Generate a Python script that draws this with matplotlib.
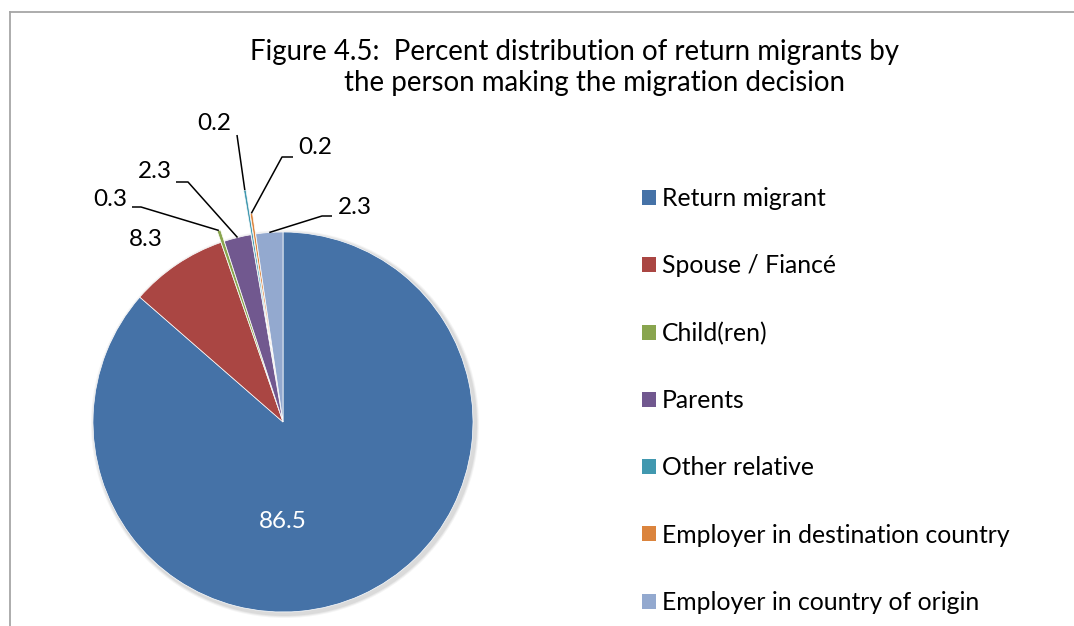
import matplotlib
matplotlib.use("Agg")
import matplotlib.pyplot as plt
from matplotlib.patches import Patch, Circle
import numpy as np

# ---------------- data ----------------
categories = ["Return migrant", "Spouse / Fiancé", "Child(ren)", "Parents",
              "Other relative", "Employer in destination country",
              "Employer in country of origin"]
values = [86.5, 8.3, 0.3, 2.3, 0.2, 0.2, 2.3]
value_labels = ["86.5", "8.3", "0.3", "2.3", "0.2", "0.2", "2.3"]
colors = ["#4572A7", "#AA4643", "#89A54E", "#71588F", "#4198AF", "#DB843D", "#93A9CF"]
title_lines = ["Figure 4.5:  Percent distribution of return migrants by",
               "the person making the migration decision"]

# ---------------- layout (pixels) ----------------
W, H = 1074, 626
FONT = ["Lato", "DejaVu Sans"]
cx, cy, R = 283, 422, 190
explode_px = [0, 0, 12, 0, 45, 21, 0]
label_pos = [(283, 522), (146, 239), (110, 200), (155, 172), (214, 124), (315, 148), (355, 207)]
leader_pts = [None, None,
              [(132, 207), (141, 207)],
              [(176, 182), (188, 182)],
              [(237, 135)],
              [(293, 157), (282, 157)],
              [(332, 216), (322, 216)]]
label_colors = ["white"] + ["black"] * 6

fig = plt.figure(figsize=(W / 100, H / 100), dpi=100)
ax = fig.add_axes([0, 0, 1, 1])
renderer = fig.canvas.get_renderer()


def Y(py):
    return H - py


def fit_size(s, target_w, base=20):
    t = fig.text(0, 0, s, fontsize=base, family=FONT)
    w = t.get_window_extent(renderer).width
    t.remove()
    return base * target_w / w


# soft shadow
for k, a in [(4, 0.04), (3, 0.05), (2, 0.06)]:
    ax.add_patch(Circle((cx + 2, Y(cy) - 2), R + k, color="black", alpha=a, lw=0, zorder=0))

ax.set_autoscale_on(False)
wedges, _ = ax.pie(values, colors=colors, startangle=90, counterclock=False,
                   center=(cx, Y(cy)), radius=R, explode=explode_px,
                   wedgeprops=dict(edgecolor="white", linewidth=0.5), frame=True)
ax.set_xlim(0, W)
ax.set_ylim(0, H)
ax.set_aspect("auto")
ax.axis("off")

# data labels
lbl_size = fit_size("86.5", 48)
for i, (lab, (px, py)) in enumerate(zip(value_labels, label_pos)):
    ax.text(px, Y(py), lab, ha="center", va="center", fontsize=lbl_size,
            family=FONT, color=label_colors[i], zorder=5)
    if leader_pts[i] is not None:
        w = wedges[i]
        th = np.deg2rad((w.theta1 + w.theta2) / 2)
        ax_x = w.center[0] + R * np.cos(th)
        ax_y = w.center[1] + R * np.sin(th)
        xs = [p[0] for p in leader_pts[i]] + [ax_x]
        ys = [Y(p[1]) for p in leader_pts[i]] + [ax_y]
        ax.plot(xs, ys, color="black", lw=1.1, zorder=4, solid_capstyle="butt")

# title
t_size = fit_size(title_lines[0], 649)
ax.text(574.5, Y(60), title_lines[0], ha="center", va="baseline", fontsize=t_size, family=FONT)
ax.text(595, Y(91), title_lines[1], ha="center", va="baseline", fontsize=t_size, family=FONT)

# chart border (top and left)
ax.plot([10, 10], [Y(11.5), Y(H + 5)], color="#a6a6a6", lw=1.3, clip_on=False)
ax.plot([10, W + 5], [Y(11.5), Y(11.5)], color="#a6a6a6", lw=1.3, clip_on=False)

# legend
leg_size = fit_size("Employer in destination country", 348)
fpx = leg_size * 100 / 72
handles = [Patch(facecolor=c, edgecolor="none") for c in colors]
target_sp = 67.3
ls = 1.5
anchor = [642, 180]
for it in range(4):
    if ax.get_legend() is not None:
        ax.get_legend().remove()
    leg = ax.legend(handles, categories, loc="upper left",
                    bbox_to_anchor=(anchor[0] / W, 1 - anchor[1] / H),
                    bbox_transform=fig.transFigure, frameon=False,
                    prop=dict(family=FONT, size=leg_size),
                    handlelength=14 / fpx, handleheight=14 / fpx,
                    handletextpad=6 / fpx, labelspacing=ls,
                    borderpad=0, borderaxespad=0)
    fig.canvas.draw()
    hb = [h.get_window_extent(renderer) for h in leg.legend_handles]
    ys = [(b.y0 + b.y1) / 2 for b in hb]
    sp = (ys[0] - ys[-1]) / 6
    ls += (target_sp - sp) / fpx
    # shift so first square's center is at (649, 197) px
    first = hb[0]
    cur_x = first.x0
    cur_y = H - (first.y0 + first.y1) / 2
    anchor[0] += 642 - cur_x
    anchor[1] += 197.3 - cur_y

fig.savefig("out.png", dpi=100)
